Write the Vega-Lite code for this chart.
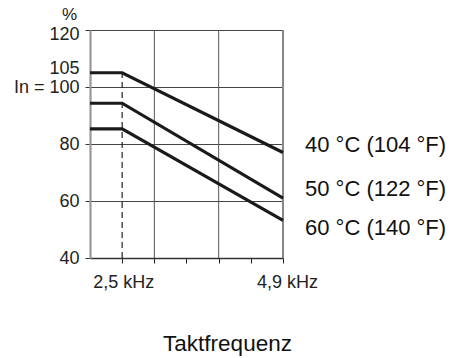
{
  "$schema": "https://vega.github.io/schema/vega-lite/v6.json",
  "width": 193,
  "height": 228,
  "autosize": {"type": "none"},
  "padding": {"left": 90, "top": 30, "right": 186, "bottom": 100},
  "background": "white",
  "config": {"view": {"stroke": null}, "font": "Liberation Sans"},
  "datasets": {
    "curves": [
      {"f": 2.02, "p": 105, "s": "40 °C (104 °F)"},
      {"f": 2.5, "p": 105, "s": "40 °C (104 °F)"},
      {"f": 4.9, "p": 77, "s": "40 °C (104 °F)"},
      {"f": 2.02, "p": 94.3, "s": "50 °C (122 °F)"},
      {"f": 2.5, "p": 94.3, "s": "50 °C (122 °F)"},
      {"f": 4.9, "p": 61, "s": "50 °C (122 °F)"},
      {"f": 2.02, "p": 85.3, "s": "60 °C (140 °F)"},
      {"f": 2.5, "p": 85.3, "s": "60 °C (140 °F)"},
      {"f": 4.9, "p": 53.2, "s": "60 °C (140 °F)"}
    ],
    "labels": [
      {"f": 4.9, "p": 77.1, "s": "40 °C (104 °F)"},
      {"f": 4.9, "p": 61.6, "s": "50 °C (122 °F)"},
      {"f": 4.9, "p": 48.2, "s": "60 °C (140 °F)"}
    ],
    "vgrid": [{"f": 2.98}, {"f": 3.94}],
    "border": [{"f": 4.9}],
    "dashed": [{"f": 2.5, "lo": 40, "hi": 105}]
  },
  "layer": [
    {
      "data": {"name": "vgrid"},
      "mark": {"type": "rule", "color": "#555555", "strokeWidth": 1},
      "encoding": {
        "x": {"field": "f", "type": "quantitative", "scale": {"domain": [2.02, 4.9], "nice": false, "zero": false},
          "axis": {
            "values": [2.5, 2.98, 3.46, 3.94, 4.42, 4.9],
            "tickCount": 30,
            "labelExpr": "datum.value == 2.5 ? '2,5 kHz' : (datum.value == 4.9 ? '4,9 kHz' : '')",
            "labelOverlap": false,
            "labelBound": false,
            "labelFlush": false,
            "labelOffset": {"condition": {"test": "datum.value == 4.9", "value": 4}, "value": 1},
            "grid": false,
            "domainColor": "#333333",
            "domainWidth": 1.5,
            "tickColor": "#222222",
            "tickSize": 5,
            "labelFontSize": 18,
            "labelColor": "#222222",
            "labelPadding": 10,
            "title": "Taktfrequenz",
            "titleFontSize": 22.5,
            "titleFontWeight": "normal",
            "titleColor": "#111111",
            "titleAlign": "center",
            "titleBaseline": "alphabetic",
            "titleX": 137,
            "titleY": 92.5
          }},
        "y": {"datum": 40, "type": "quantitative"},
        "y2": {"datum": 120}
      }
    },
    {
      "data": {"name": "border"},
      "mark": {"type": "rule", "color": "#888888", "strokeWidth": 2},
      "encoding": {
        "x": {"field": "f", "type": "quantitative"},
        "y": {"datum": 40, "type": "quantitative"},
        "y2": {"datum": 120}
      }
    },
    {
      "data": {"name": "dashed"},
      "mark": {"type": "rule", "color": "#222222", "strokeWidth": 1.2, "strokeDash": [6, 4]},
      "encoding": {
        "x": {"field": "f", "type": "quantitative"},
        "y": {"field": "lo", "type": "quantitative"},
        "y2": {"field": "hi"}
      }
    },
    {
      "data": {"name": "curves"},
      "mark": {"type": "line", "color": "#1a1a1a", "strokeWidth": 3.2},
      "encoding": {
        "x": {"field": "f", "type": "quantitative"},
        "y": {"field": "p", "type": "quantitative",
          "scale": {"domain": [40, 120], "nice": false, "zero": false},
          "axis": {
            "values": [40, 60, 80, 100, 105, 120],
            "tickCount": 30,
            "labelExpr": "datum.value == 100 ? 'In = 100' : datum.label",
            "labelOverlap": false,
            "labelBound": false,
            "labelFlush": false,
            "labelOffset": {"condition": [{"test": "datum.value == 120", "value": 4}, {"test": "datum.value == 105", "value": -4}], "value": 0},
            "grid": true,
            "gridColor": {"condition": {"test": "datum.value == 105", "value": "transparent"}, "value": "#444444"},
            "gridWidth": 1,
            "domainColor": "#999999",
            "domainWidth": 2.2,
            "tickColor": {"condition": {"test": "datum.value == 105", "value": "transparent"}, "value": "#333333"},
            "tickSize": 5,
            "labelFontSize": 18,
            "labelColor": "#222222",
            "labelPadding": 6,
            "title": "%",
            "titleAngle": 0,
            "titleAlign": "center",
            "titleBaseline": "middle",
            "titleX": -21,
            "titleY": -16,
            "titleFontSize": 17,
            "titleFontWeight": "normal",
            "titleColor": "#222222"
          }},
        "detail": {"field": "s"}
      }
    },
    {
      "data": {"name": "labels"},
      "mark": {"type": "text", "align": "left", "baseline": "alphabetic", "dx": 22, "fontSize": 22, "color": "#111111"},
      "encoding": {
        "x": {"field": "f", "type": "quantitative"},
        "y": {"field": "p", "type": "quantitative"},
        "text": {"field": "s"}
      }
    }
  ]
}
